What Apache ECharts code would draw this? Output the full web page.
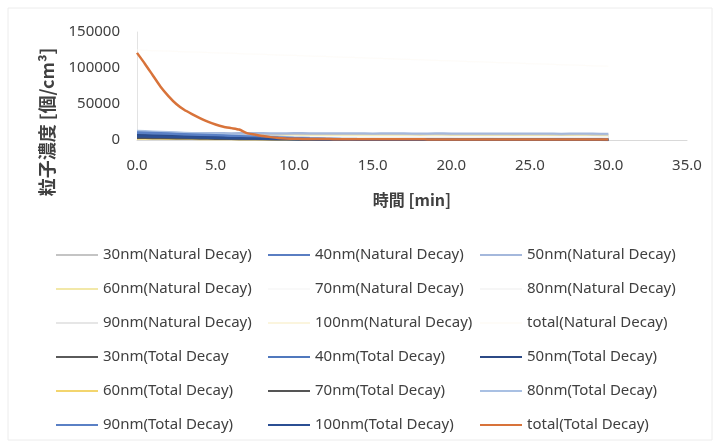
<!DOCTYPE html>
<html>
<head>
<meta charset="utf-8">
<title>粒子濃度</title>
<script src="https://cdn.jsdelivr.net/npm/echarts@6/dist/echarts.min.js"></script>
<style>
  html, body { margin: 0; padding: 0; background: #fff; }
  #main { width: 717px; height: 442px; }
</style>
</head>
<body>
<div id="main"></div>
<script>
// 時間 [min]
var minutes = [0,1,2,3,4,5,6,7,8,9,10,11,12,13,14,15,16,17,18,19,20,21,22,23,24,25,26,27,28,29,30];
var minutesHalf = [0,0.5,1,1.5,2,2.5,3,3.5,4,4.5,5,5.5,6,6.5,7,7.5,8,8.5,9,9.5,10,10.5,11,11.5,12,12.5,13,13.5,14,14.5,15,15.5,16,16.5,17,17.5,18,18.5,19,19.5,20,20.5,21,21.5,22,22.5,23,23.5,24,24.5,25,25.5,26,26.5,27,27.5,28,28.5,29,29.5,30];

// Natural Decay
var nat30  = [8000,7900,8100,7800,8000,7900,7700,7900,7800,7600,7800,7700,7500,7700,7600,7400,7600,7500,7300,7500,7400,7200,7400,7300,7100,7300,7200,7000,7200,7100,7000];
var nat40  = [4500,4400,4500,4300,4400,4300,4200,4300,4200,4100,4200,4100,4000,4100,4000,3900,4000,3900,3800,3900,3800,3700,3800,3700,3600,3700,3600,3500,3600,3500,3400];
var nat50  = [9800,9700,9900,9600,9800,9700,9500,9700,9600,9400,9600,9500,9300,9500,9400,9200,9400,9300,9100,9300,9200,9000,9200,9100,8900,9100,9000,8800,9000,8900,8800];
var nat60  = [6000,5900,6000,5800,5900,5800,5700,5800,5700,5600,5700,5600,5500,5600,5500,5400,5500,5400,5300,5400,5300,5200,5300,5200,5100,5200,5100,5000,5100,5000,4900];
var nat70  = [5000,4900,5000,4800,4900,4800,4700,4800,4700,4600,4700,4600,4500,4600,4500,4400,4500,4400,4300,4400,4300,4200,4300,4200,4100,4200,4100,4000,4100,4000,3900];
var nat80  = [4000,3900,4000,3800,3900,3800,3700,3800,3700,3600,3700,3600,3500,3600,3500,3400,3500,3400,3300,3400,3300,3200,3300,3200,3100,3200,3100,3000,3100,3000,2900];
var nat90  = [3000,2900,3000,2800,2900,2800,2700,2800,2700,2600,2700,2600,2500,2600,2500,2400,2500,2400,2300,2400,2300,2200,2300,2200,2100,2200,2100,2000,2100,2000,1900];
var nat100 = [2500,2400,2500,2300,2400,2300,2200,2300,2200,2100,2200,2100,2000,2100,2000,1900,2000,1900,1800,1900,1800,1700,1800,1700,1600,1700,1600,1500,1600,1500,1400];
var natTotal = [125000,124000,123500,122500,122000,121000,120500,119500,119000,118000,117500,116500,116000,115000,114500,113500,113000,112000,111500,110500,110000,109000,108500,107500,107000,106000,105500,104500,104000,103000,102500];

// Total Decay
var tot30  = [3500,3200,2900,2600,2300,2000,1700,1450,1200,1000,800,650,520,420,350,300,260,230,210,190,180,170,160,150,140,140,130,120,120,110,100];
var tot40  = [9000,8300,7600,6900,6200,5500,4800,4100,3400,2700,2100,1600,1250,1000,820,700,600,540,490,450,420,390,360,340,320,300,290,280,270,260,250];
var tot50  = [6500,6000,5500,5000,4500,4000,3500,3000,2500,2000,1600,1250,1000,800,650,560,500,450,410,380,350,330,310,290,280,270,260,250,240,230,220];
var tot60  = [1800,1650,1500,1350,1200,1050,900,760,630,510,400,320,260,220,190,170,150,140,130,120,110,100,100,90,90,80,80,70,70,60,60];
var tot70  = [2800,2550,2300,2050,1800,1550,1300,1100,900,720,560,440,350,290,250,220,200,180,170,160,150,140,130,120,110,100,100,90,90,80,80];
var tot80  = [12500,11600,10700,9800,8900,8000,7100,6200,5300,4400,3500,2700,2100,1600,1250,1000,850,750,680,620,570,530,500,470,450,430,410,390,370,360,350];
var tot90  = [10500,9700,8900,8100,7300,6500,5700,4900,4100,3300,2600,2000,1550,1200,950,800,700,620,560,510,470,440,410,390,370,350,340,330,320,310,300];
var tot100 = [5000,4600,4200,3800,3400,3000,2600,2200,1800,1450,1150,900,720,580,480,420,380,350,320,300,280,260,250,240,230,220,210,200,190,180,170];
var totTotal = [121000,106000,90000,74000,61000,50000,42000,36000,30500,25500,21500,18500,16500,14500,9500,7500,5500,4000,2800,2100,1700,1500,1400,1300,1250,1200,1150,1100,1100,1050,1000,1000,950,950,900,900,880,860,850,830,820,800,790,780,770,760,750,740,730,720,710,700,690,680,670,660,650,640,630,620,610];

var seriesDefs = [
  ['30nm(Natural Decay)', minutes, nat30, '#c4c4c4', 2],
  ['40nm(Natural Decay)', minutes, nat40, '#5a7ec2', 2],
  ['50nm(Natural Decay)', minutes, nat50, '#a4b8dc', 2],
  ['60nm(Natural Decay)', minutes, nat60, '#f2e8a8', 2],
  ['70nm(Natural Decay)', minutes, nat70, '#f9f9f9', 2],
  ['80nm(Natural Decay)', minutes, nat80, '#f6f6f6', 2],
  ['90nm(Natural Decay)', minutes, nat90, '#e6e6e6', 2],
  ['100nm(Natural Decay)', minutes, nat100, '#fbf5de', 2],
  ['total(Natural Decay)', minutes, natTotal, '#fefcf8', 1],
  ['30nm(Total Decay', minutes, tot30, '#5a5a5a', 2],
  ['40nm(Total Decay)', minutes, tot40, '#5078bd', 2.5],
  ['50nm(Total Decay)', minutes, tot50, '#2c4a86', 2.5],
  ['60nm(Total Decay)', minutes, tot60, '#f3d56e', 2],
  ['70nm(Total Decay)', minutes, tot70, '#555555', 2],
  ['80nm(Total Decay)', minutes, tot80, '#a9c0e3', 2.5],
  ['90nm(Total Decay)', minutes, tot90, '#5a80c5', 2.5],
  ['100nm(Total Decay)', minutes, tot100, '#2b4f93', 2.5],
  ['total(Total Decay)', minutesHalf, totTotal, '#d8733a', 2.5]
];

var series = seriesDefs.map(function (d) {
  var pts = [];
  for (var i = 0; i < d[1].length; i++) pts.push([d[1][i], d[2][i]]);
  return {
    name: d[0],
    type: 'line',
    data: pts,
    symbol: 'none',
    smooth: 0.2,
    lineStyle: { color: d[3], width: d[4] },
    itemStyle: { color: d[3] }
  };
});

function col(k) {
  var names = [];
  for (var i = k; i < seriesDefs.length; i += 3) names.push(seriesDefs[i][0]);
  return names;
}
var legendX = [51, 263, 475];
var legends = legendX.map(function (x, k) {
  return {
    data: col(k),
    orient: 'vertical',
    left: x,
    top: 240,
    icon: 'rect',
    itemWidth: 42,
    itemHeight: 2,
    itemGap: 14,
    selectedMode: false,
    textStyle: { fontFamily: 'Noto Sans', fontSize: 15, color: '#404040', lineHeight: 20 }
  };
});

var chart = echarts.init(document.getElementById('main'));
chart.setOption({
  animation: false,
  backgroundColor: '#fff',
  grid: { left: 137, right: 30, top: 32, bottom: 302, containLabel: false },
  legend: legends,
  graphic: [
    { type: 'rect', silent: true, shape: { x: 8, y: 8, width: 704, height: 432 },
      style: { fill: 'none', stroke: '#ececec', lineWidth: 1 } },
    { type: 'text', x: 47, y: 122, rotation: Math.PI / 2, silent: true,
      style: { text: '粒子濃度 [個/cm³]', fontFamily: 'Noto Sans CJK JP', fontSize: 18, fontWeight: 'bold',
        fill: '#404040', align: 'center', verticalAlign: 'middle' } }
  ],
  xAxis: {
    type: 'value', min: 0, max: 35, interval: 5,
    name: '時間 [min]', nameLocation: 'middle', nameGap: 52,
    nameTextStyle: { fontFamily: 'Noto Sans CJK JP', fontSize: 16, fontWeight: 'bold', color: '#404040' },
    axisLine: { show: true, lineStyle: { color: '#d9d9d9' } },
    axisTick: { show: false },
    splitLine: { show: false },
    axisLabel: { fontFamily: 'Noto Sans', fontSize: 15, color: '#404040', margin: 18,
      formatter: function (v) { return v.toFixed(1); } }
  },
  yAxis: {
    type: 'value', min: 0, max: 150000, interval: 50000,
    axisLine: { show: true, lineStyle: { color: '#e3e3e3' } },
    axisTick: { show: false },
    splitLine: { show: false },
    axisLabel: { fontFamily: 'Noto Sans', fontSize: 15, color: '#404040', margin: 17,
      formatter: function (v) { return String(v); } }
  },
  series: series
});
</script>
</body>
</html>
